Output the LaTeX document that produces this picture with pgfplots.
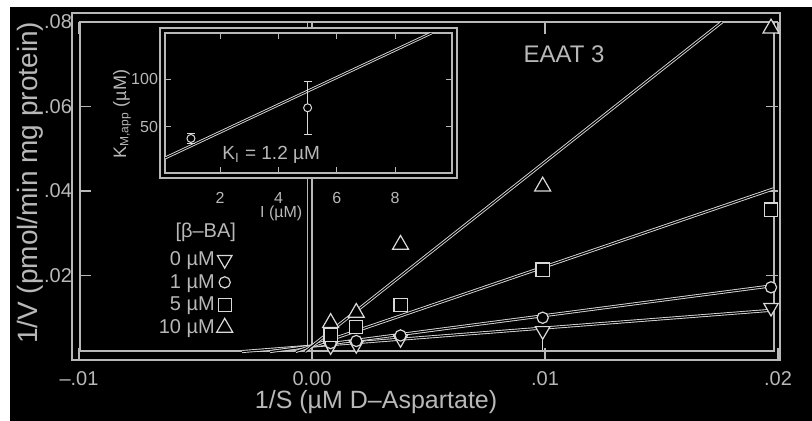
\documentclass[border=0pt]{standalone}
\usepackage{fontspec}
\setmainfont{Liberation Sans}
\usepackage{pgfplots}
\pgfplotsset{compat=1.18}
\definecolor{fg}{gray}{0.72}
\definecolor{ln}{gray}{0.85}
\begin{document}
\begin{tikzpicture}
\useasboundingbox (0,0) rectangle (406pt,210.5pt);
\fill[white] (0,0) rectangle (406pt,210.5pt);
\fill[black] (5pt,0) rectangle (406pt,207pt);
% double frame of main plot
\draw[fg, line width=0.6pt] (36pt,30.5pt) rectangle (390pt,204pt);
\draw[fg, line width=0.6pt] (40pt,35pt) rectangle (387pt,199.5pt);
\begin{axis}[
  at={(39.5pt,30.5pt)}, anchor=south west,
  scale only axis, width=349.5pt, height=169pt,
  xmin=-0.01, xmax=0.02, ymin=0, ymax=0.08,
  scaled ticks=false,
  axis line style={draw=none},
  clip=false,
  xtick={-0.01,0,0.01,0.02}, xticklabels={--.01,0.00,.01,.02},
  ytick={0.02,0.04,0.06,0.08}, yticklabels={.02,.04,.06,.08},
  major tick length=6pt,
  tick style={fg, line width=0.6pt},
  tick label style={text=fg, font=\fontsize{10}{12}\selectfont},
  xticklabel style={yshift=-2pt},
  xlabel={1/S (µM D--Aspartate)},
  ylabel={1/V (pmol/min mg protein)},
  xlabel style={at={(axis description cs:0.425,-0.124)}, anchor=center, text=fg, font=\fontsize{12.5}{14}\selectfont},
  ylabel style={at={(axis description cs:-0.07,0.524)}, anchor=center, rotate=0, text=fg, font=\fontsize{14}{16}\selectfont},
  legend plot pos=right,
  legend cell align=right,
  legend style={at={(axis description cs:0.229,0.343)}, anchor=north east,
    draw=none, fill=none, text=fg, font=\fontsize{10}{12}\selectfont,
    row sep=0pt, nodes={inner sep=1pt, text height=7.5pt, text depth=1.8pt}},
]
% y axis line at x = 0 (thick line, shown as two edges)
\addplot[fg, line width=0.6pt, forget plot] coordinates {(0,0.0021) (0,0.08)};
\addplot[fg, line width=0.6pt, forget plot] coordinates {(-0.00018,0.0021) (-0.00018,0.08)};
% regression lines
\addplot[ln, line width=0.45pt, double=black, double distance=0.6pt, forget plot] coordinates {(-0.0030,0.0020) (0.0198,0.0118)};
\addplot[ln, line width=0.45pt, double=black, double distance=0.6pt, forget plot] coordinates {(-0.0018,0.0020) (0.0198,0.0176)};
\addplot[ln, line width=0.45pt, double=black, double distance=0.6pt, forget plot] coordinates {(-0.0007,0.0020) (0.0198,0.0405)};
\addplot[ln, line width=0.45pt, double=black, double distance=0.6pt, forget plot] coordinates {(-0.0003,0.0020) (0.0176,0.0800)};
% error bars
\addplot[forget plot, draw=none, mark=none, error bars/.cd, y dir=minus, y explicit, error bar style={draw=ln, line width=0.8pt}, error mark=none]
  coordinates {(0.0099,0.0069) -= (0,0.0046)};
\addplot[forget plot, draw=none, mark=none, error bars/.cd, y dir=both, y explicit, error bar style={draw=ln, line width=0.8pt}, error mark=none]
  coordinates {(0.0008,0.0040) +- (0,0.0014) (0.0038,0.0058) +- (0,0.0016)};
% data
\addplot[only marks, mark=triangle*, mark size=4.2pt, mark options={rotate=180, draw=ln, fill=black, line width=0.6pt}]
  coordinates {(0.0008,0.0033) (0.0019,0.0036) (0.0038,0.0050) (0.0099,0.0069) (0.0197,0.0124)};
\addlegendentry{0 µM}
\addplot[only marks, mark=*, mark size=2.8pt, mark options={draw=ln, fill=black, line width=0.6pt}]
  coordinates {(0.0008,0.0040) (0.0019,0.0045) (0.0038,0.0058) (0.0099,0.0100) (0.0197,0.0172)};
\addlegendentry{1 µM}
\addplot[only marks, mark=square*, mark size=3.3pt, mark options={draw=ln, fill=black, line width=0.6pt}]
  coordinates {(0.0008,0.0060) (0.0019,0.0078) (0.0038,0.0130) (0.0099,0.0214) (0.0197,0.0356)};
\addlegendentry{5 µM}
\addplot[only marks, mark=triangle*, mark size=4.6pt, mark options={draw=ln, fill=black, line width=0.6pt}]
  coordinates {(0.0008,0.0088) (0.0019,0.0112) (0.0038,0.0273) (0.0099,0.0411) (0.0197,0.0785)};
\addlegendentry{10 µM}
\end{axis}
\node[text=fg, font=\fontsize{10}{12}\selectfont, anchor=east] at (121.5pt,94.5pt) {[β--BA]};
\node[text=fg, font=\fontsize{12}{14}\selectfont] at (282pt,183.5pt) {EAAT 3};
% inset
\draw[fg, fill=black, line width=0.6pt] (80pt,121.5pt) rectangle (228.5pt,196.5pt);
\begin{axis}[
  at={(82.5pt,124pt)}, anchor=south west,
  scale only axis, width=143.5pt, height=70pt,
  xmin=0.11, xmax=9.95, ymin=2, ymax=148,
  /pgf/number format/assume math mode=true,
  axis background/.style={fill=black},
  axis line style={fg, line width=0.6pt},
  xtick={2,4,6,8}, ytick={50,100},
  major tick length=3pt,
  tick style={fg, line width=0.5pt},
  tick label style={text=fg, font=\fontsize{8}{9}\selectfont},
  xticklabel style={yshift=-6pt},
  xlabel={I (µM)}, ylabel={K\textsubscript{M,app} (µM)},
  xlabel style={at={(axis description cs:0.405,-0.29)}, anchor=center, text=fg, font=\fontsize{8}{9}\selectfont},
  ylabel style={at={(axis description cs:-0.15,0.42)}, anchor=center, rotate=0, text=fg, font=\fontsize{9}{10}\selectfont},
]
\addplot[ln, line width=0.45pt, double=black, double distance=0.5pt] coordinates {(0.11,17.6) (9.25,148)};
\addplot[ln, only marks, mark=*, mark size=2pt, mark options={draw=ln, fill=black, line width=0.5pt},
  error bars/.cd, y dir=both, y explicit, error bar style={draw=ln, line width=0.5pt}]
  coordinates {(1,38) +- (0,5) (5,70) +- (0,28)};
\node[text=fg, font=\fontsize{9.5}{11}\selectfont] at (axis cs:3.75,21) {K\textsubscript{I} = 1.2 µM};
\end{axis}
\end{tikzpicture}
\end{document}
